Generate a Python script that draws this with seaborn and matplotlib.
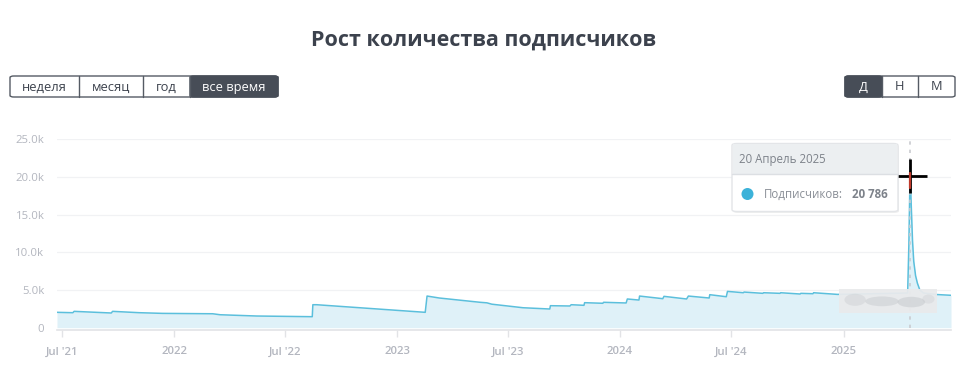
import matplotlib
matplotlib.use("Agg")
import matplotlib.pyplot as plt
import matplotlib.dates as mdates
from matplotlib.patches import FancyBboxPatch, Rectangle, Ellipse
import pandas as pd
import seaborn as sns

# ---------------- data ----------------
dates = [
    "2021-06-23", "2021-07-19", "2021-07-21", "2021-09-20", "2021-09-22",
    "2021-11-05", "2021-12-13", "2022-03-05", "2022-03-17", "2022-05-16",
    "2022-08-15", "2022-08-16", "2022-08-22", "2023-02-16", "2023-02-19",
    "2023-03-11", "2023-05-17", "2023-05-28", "2023-06-05", "2023-07-26",
    "2023-09-08", "2023-09-09", "2023-10-11", "2023-10-13", "2023-11-03",
    "2023-11-04", "2023-12-04", "2023-12-05", "2024-01-11", "2024-01-13",
    "2024-02-01", "2024-02-02", "2024-03-11", "2024-03-13", "2024-04-19",
    "2024-04-22", "2024-05-26", "2024-05-27", "2024-06-23", "2024-06-25",
    "2024-07-21", "2024-07-22", "2024-08-22", "2024-08-23", "2024-09-19",
    "2024-09-20", "2024-10-22", "2024-10-23", "2024-11-12", "2024-11-13",
    "2024-12-22", "2025-02-15", "2025-04-16", "2025-04-18", "2025-04-20",
    "2025-04-21", "2025-04-22", "2025-04-24", "2025-04-26", "2025-04-29",
    "2025-05-02", "2025-05-06", "2025-05-12", "2025-06-03", "2025-06-26",
]
subscribers = [
    2040, 1990, 2170, 1950, 2170,
    1990, 1900, 1850, 1720, 1550,
    1460, 3050, 3050, 2040, 4200,
    3940, 3370, 3300, 3120, 2650,
    2480, 2920, 2880, 3050, 2970,
    3320, 3240, 3370, 3280, 3810,
    3670, 4200, 3850, 4160, 3810,
    4200, 3940, 4380, 4110, 4820,
    4640, 4730, 4560, 4640, 4560,
    4640, 4470, 4560, 4510, 4640,
    4420, 4500, 4600, 11000, 20786,
    18500, 16000, 11500, 8800, 6900,
    5900, 5000, 4600, 4400, 4300,
]
y_ticks = [0, 5000, 10000, 15000, 20000, 25000]
y_labels = ["0", "5.0k", "10.0k", "15.0k", "20.0k", "25.0k"]
x_ticks = ["2021-07-01", "2022-01-01", "2022-07-01", "2023-01-01",
           "2023-07-01", "2024-01-01", "2024-07-01", "2025-01-01"]
x_labels = ["Jul '21", "2022", "Jul '22", "2023", "Jul '23", "2024", "Jul '24", "2025"]
title = "Рост количества подписчиков"
left_buttons = ["неделя", "месяц", "год", "все время"]
right_buttons = ["Д", "Н", "М"]
tooltip_date = "20 Апрель 2025"
tooltip_label = "Подписчиков:"
tooltip_value = "20 786"
highlight_date = "2025-04-20"
highlight_value = 20786

df = pd.DataFrame({"date": pd.to_datetime(dates), "subs": subscribers})

# ---------------- style ----------------
sns.set_theme(style="white")
plt.rcParams["font.family"] = ["Open Sans", "DejaVu Sans"]

W, H = 968, 379
fig = plt.figure(figsize=(W / 100, H / 100), dpi=100)

def fx(px):
    return px / W

def fy(py):
    return 1 - py / H

LINE = "#5bbfdc"
FILL = "#dff1f8"
TICK = "#b3b6bf"

ax_left, ax_right = 57, 951
ax_top, ax_bottom = 139.3, 327.7
ax = fig.add_axes([fx(ax_left), fy(ax_bottom), fx(ax_right - ax_left), (ax_bottom - ax_top) / H])

sns.lineplot(data=df, x="date", y="subs", ax=ax, color=LINE, linewidth=1.1, zorder=3)
ax.fill_between(df["date"], df["subs"], 0, color=FILL, zorder=2, linewidth=0)

ax.set_xlim(df["date"].iloc[0], df["date"].iloc[-1])
ax.set_ylim(0, 25000)
ax.set_yticks(y_ticks)
ax.set_yticklabels(y_labels)
ax.set_xticks(pd.to_datetime(x_ticks))
ax.set_xticklabels(x_labels)
ax.set_xlabel("")
ax.set_ylabel("")
for yv in y_ticks[1:]:
    ax.axhline(yv, color="#f1f2f4", linewidth=0.9, zorder=1)
for s in ["top", "right", "left"]:
    ax.spines[s].set_visible(False)
ax.spines["bottom"].set_color("#e2e3e6")
ax.spines["bottom"].set_linewidth(1.2)
ax.spines["bottom"].set_position(("outward", 1.5))
ax.tick_params(axis="y", length=0, pad=9, labelsize=8.2, labelcolor=TICK)
ax.tick_params(axis="x", length=5, width=1, color="#e2e3e6", pad=7, labelsize=8.2,
               labelcolor=TICK, bottom=True)
for lbl in ax.get_xticklabels():
    lbl.set_fontweight("semibold")

# highlight vertical dotted line
hd = pd.to_datetime(highlight_date)
ax.plot([hd, hd], [0, 25000], color="#c9cbd0", linestyle=(0, (2, 3)), linewidth=1.2,
        zorder=4, clip_on=False)

# blurred watermark region
blur_x0 = mdates.date2num(pd.Timestamp("2024-12-24"))
blur_x1 = mdates.date2num(pd.Timestamp("2025-06-03"))
ax.add_patch(Rectangle((blur_x0, 2000), blur_x1 - blur_x0, 3200, color="#e9eaec",
                       alpha=0.95, zorder=5, linewidth=0))
for cx, cy, w, h, a in [("2025-01-20", 3700, 35, 1600, 0.35),
                        ("2025-03-05", 3500, 55, 1300, 0.45),
                        ("2025-04-22", 3400, 45, 1400, 0.5),
                        ("2025-05-20", 3800, 20, 1200, 0.3)]:
    ax.add_patch(Ellipse((mdates.date2num(pd.Timestamp(cx)), cy), w, h,
                         color="#c4c7cb", alpha=a, zorder=6, linewidth=0))

# crosshair cursor (mouse pointer, drawn just below the peak)
cursor_y = highlight_value - 650
ax.plot([hd], [cursor_y], marker="+", markersize=24, markeredgewidth=2.0,
        color="black", zorder=8, clip_on=False)
ax.plot([hd, hd], [cursor_y - 1600, cursor_y + 400], color="#c0392b",
        linewidth=1.6, zorder=9, clip_on=False)

# ---------------- title ----------------
fig.text(0.5, fy(40), title, ha="center", va="center", fontsize=15.5,
         fontweight="bold", color="#3c424d")

# ---------------- buttons ----------------
DARK = "#474d57"

def button_group(x0, widths, labels, active, y0=76, h=21):
    total = sum(widths)
    outer = FancyBboxPatch((fx(x0), fy(y0 + h)), fx(total), h / H,
                           boxstyle="round,pad=0,rounding_size=0.004",
                           transform=fig.transFigure, facecolor="white",
                           edgecolor="#555b64", linewidth=1.0, zorder=1)
    fig.patches.append(outer)
    x = x0
    for i, (w, lab) in enumerate(zip(widths, labels)):
        if i == active:
            r = FancyBboxPatch((fx(x), fy(y0 + h)), fx(w), h / H,
                               boxstyle="round,pad=0,rounding_size=0.004",
                               transform=fig.transFigure, facecolor=DARK,
                               edgecolor=DARK, linewidth=1.0, zorder=2)
            fig.patches.append(r)
        if i > 0:
            fig.add_artist(plt.Line2D([fx(x), fx(x)], [fy(y0), fy(y0 + h)],
                                      transform=fig.transFigure, color="#555b64",
                                      linewidth=1.0, zorder=3))
        fig.text(fx(x + w / 2), fy(y0 + h / 2 + 0.5), lab, ha="center", va="center",
                 fontsize=9.3, color="white" if i == active else "#3c424d", zorder=4)
        x += w

button_group(10, [69, 64, 47, 88], left_buttons, 3)
button_group(845, [37, 36, 37], right_buttons, 0)

# ---------------- tooltip ----------------
tx0, ty0, tx1, ty1 = 732, 143.5, 898, 211.5
shadow = FancyBboxPatch((fx(tx0 + 1), fy(ty1 + 1.5)), fx(tx1 - tx0), (ty1 - ty0) / H,
                        boxstyle="round,pad=0,rounding_size=0.005",
                        transform=fig.transFigure, facecolor="#00000010",
                        edgecolor="none", zorder=9)
fig.patches.append(shadow)
box = FancyBboxPatch((fx(tx0), fy(ty1)), fx(tx1 - tx0), (ty1 - ty0) / H,
                     boxstyle="round,pad=0,rounding_size=0.005",
                     transform=fig.transFigure, facecolor="white",
                     edgecolor="#e3e5e8", linewidth=1.0, zorder=10)
fig.patches.append(box)
header = Rectangle((fx(tx0 + 1), fy(174)), fx(tx1 - tx0 - 2), (174 - ty0 - 1) / H,
                   transform=fig.transFigure, facecolor="#eceff1", edgecolor="none",
                   zorder=11)
fig.patches.append(header)
fig.add_artist(plt.Line2D([fx(tx0), fx(tx1)], [fy(174), fy(174)],
                          transform=fig.transFigure, color="#dcdfe3", linewidth=1, zorder=12))
fig.text(fx(739), fy(159), tooltip_date, ha="left", va="center", fontsize=8.3,
         color="#7d828a", zorder=13)
fig.add_artist(Ellipse((fx(747.5), fy(194)), 12 / W, 12 / H, transform=fig.transFigure,
                       facecolor="#3cb2d9", edgecolor="none", zorder=13))
fig.text(fx(764), fy(194), tooltip_label, ha="left", va="center", fontsize=8.3,
         color="#8a8f97", zorder=13)
fig.text(fx(888), fy(194), tooltip_value, ha="right", va="center", fontsize=8.3,
         fontweight="bold", color="#7d828a", zorder=13)

fig.savefig("out.png", dpi=100, facecolor="white")
